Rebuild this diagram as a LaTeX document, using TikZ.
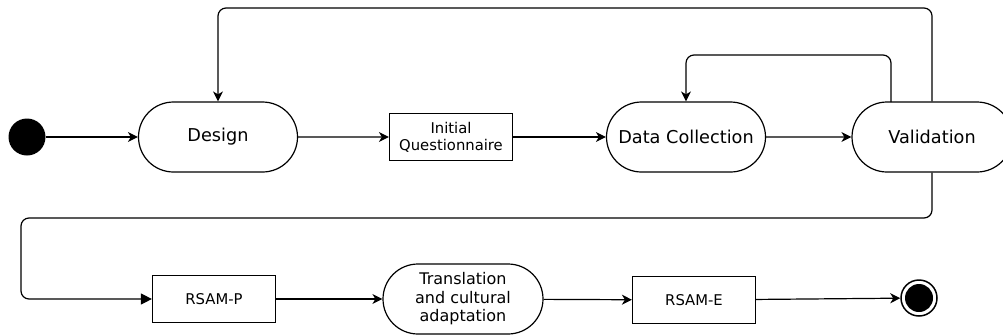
\documentclass[tikz,border=0pt]{standalone}
\usepackage{fontspec}
\setmainfont{DejaVu Sans}
\usetikzlibrary{shapes.misc,arrows.meta}
\tikzset{
  stad/.style={rounded rectangle, draw, line width=1.2pt, minimum width=163pt, minimum height=70pt, inner sep=2pt, font=\fontsize{17.7pt}{20pt}\selectfont},
  stadsmall/.style={rounded rectangle, draw, line width=1.2pt, minimum width=164pt, minimum height=70pt, inner sep=2pt, align=center, font=\fontsize{16pt}{18.5pt}\selectfont},
  box/.style={rectangle, draw, line width=1.2pt, minimum width=123pt, minimum height=47pt, inner sep=2pt, align=center, font=\fontsize{14.8pt}{17pt}\selectfont},
  arr/.style={line width=1.2pt, -{Stealth[length=10pt,width=10pt,inset=3pt]}},
  bigarr/.style={line width=1.2pt, -{Triangle[length=11pt,width=11pt]}}
}
\begin{document}
\begin{tikzpicture}[x=1pt,y=-1pt]
\useasboundingbox (0,0) rectangle (1003,335);
\begin{scope}
\clip (0,0) rectangle (1003,335);
\node[circle, fill=black, minimum size=37pt, inner sep=0pt] (start) at (27,137) {};
\node[stad] (design) at (218,137) {Design};
\node[box] (iq) at (451,137) {Initial\\Questionnaire};
\node[stad] (dc) at (686,137) {Data Collection};
\node[stad, minimum width=164pt] (val) at (932,137) {Validation};
\node[box] (rsamp) at (214,299) {RSAM-P};
\node[stadsmall] (trans) at (463,299) {Translation\\and cultural\\adaptation};
\node[box] (rsame) at (694,300) {RSAM-E};
\node[circle, draw, line width=1.5pt, minimum size=36pt, inner sep=0pt] (final) at (919,298) {};
\fill (final.center) circle (14pt);

\coordinate (topL) at (218,8);
\coordinate (midL) at (686,55);
\coordinate (valIn) at (891,102);
\coordinate (botL) at (21,218);

\draw[arr] (start) -- (design);
\draw[arr] (design) -- (iq);
\draw[arr] (iq) -- (dc);
\draw[arr] (dc) -- (val);
\draw[arr, rounded corners=8pt] (val.north) |- (topL) -- (design.north);
\draw[arr, rounded corners=8pt] (valIn) |- (midL) -- (dc.north);
\draw[bigarr, rounded corners=8pt] (val.south) |- (botL) |- (rsamp.west);
\draw[arr] (rsamp) -- (trans);
\draw[arr] (trans) -- (rsame);
\draw[arr] (rsame) -- (final);
\end{scope}
\end{tikzpicture}
\end{document}
